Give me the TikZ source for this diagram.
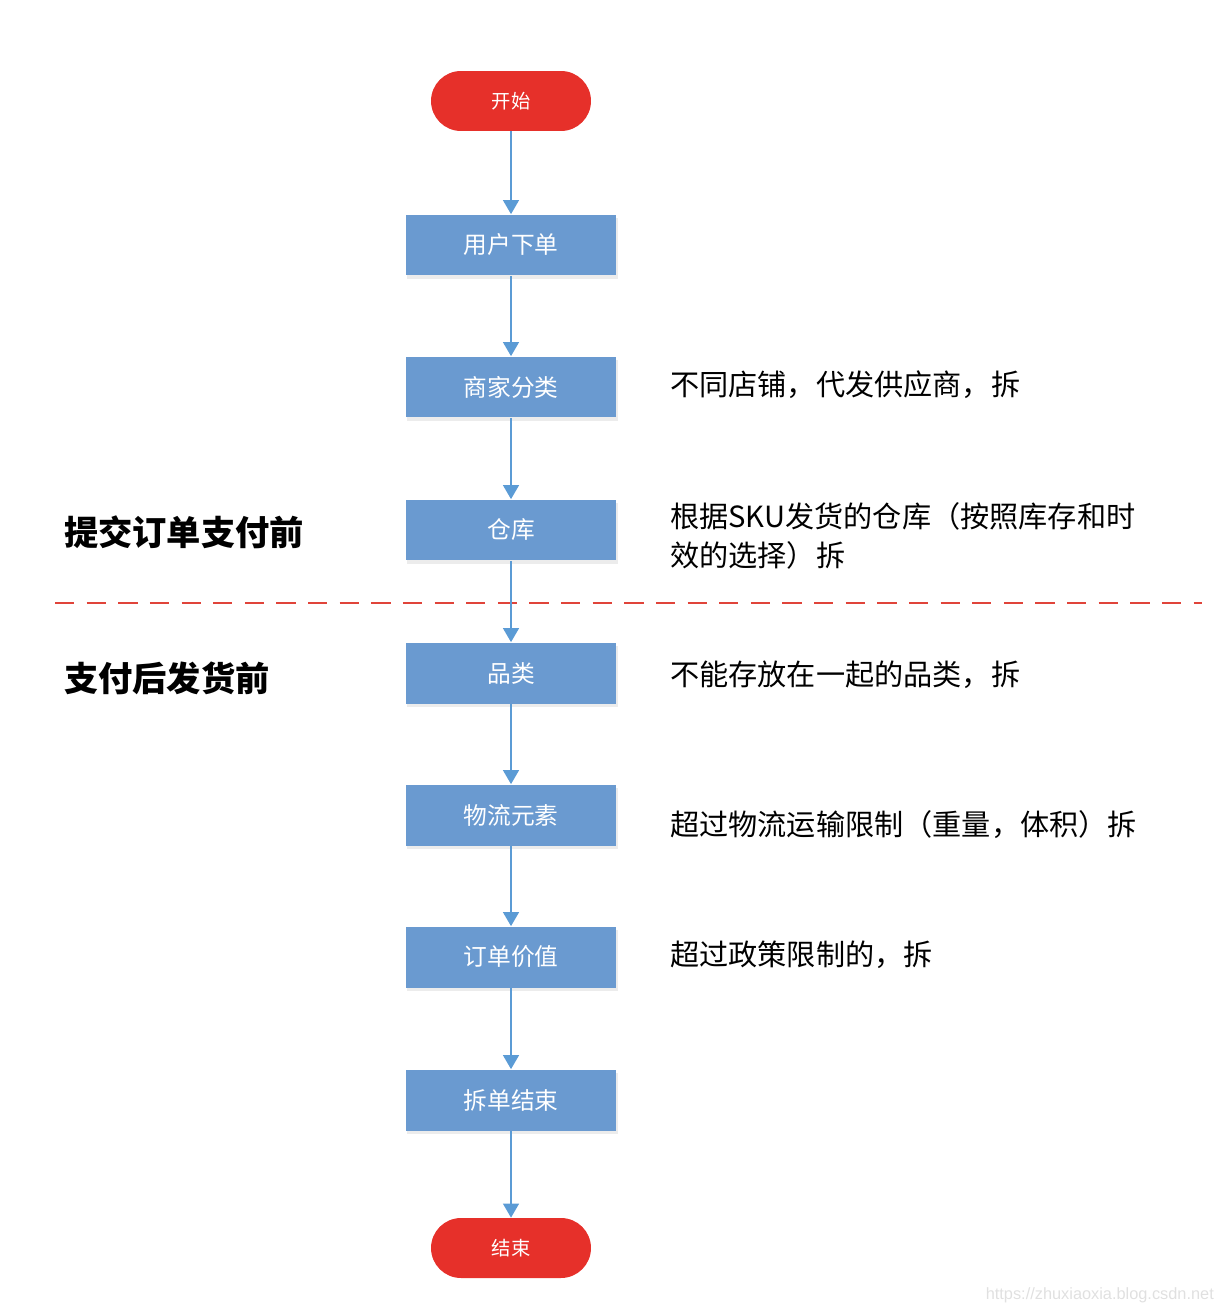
\documentclass[tikz,border=0pt]{standalone}
\usepackage{fontspec}
\setmainfont{Noto Sans CJK SC}
\newfontfamily\markfont{Liberation Sans}
\usetikzlibrary{arrows.meta, shadows}

\definecolor{termred}{HTML}{E6302A}
\definecolor{stepblue}{HTML}{6A9AD0}
\definecolor{flowblue}{HTML}{5B9BD5}
\definecolor{cutred}{HTML}{E0443A}

\begin{document}
\begin{tikzpicture}[x=0.02cm, y=-0.02cm,
    term/.style={draw=none, fill=termred, rounded corners=0.6cm, minimum width=3.2cm, minimum height=1.2cm,
                 text=white, font=\fontsize{11}{13}\selectfont},
    stepbox/.style={draw=none, fill=stepblue, minimum width=4.22cm, minimum height=1.22cm,
                 text=white, font=\fontsize{13.5}{16}\selectfont, drop shadow={opacity=0.15, shadow xshift=1pt, shadow yshift=-2pt}},
    flow/.style={draw=flowblue, line width=1.1pt, -{Triangle[width=9pt, length=8pt]}},
    note/.style={anchor=west, align=left, font=\fontsize{16.6}{22}\selectfont},
    phase/.style={anchor=west, font=\fontsize{19.5}{23}\selectfont\bfseries}]
    \useasboundingbox (0,0) rectangle (1226,1314);
    % flow chain
    \node[term] (start) at (511,101) {开始};
    \node[stepbox] (order) at (511,245) {用户下单};
    \node[stepbox] (merchant) at (511,387) {商家分类};
    \node[stepbox] (warehouse) at (511,530) {仓库};
    \node[stepbox] (category) at (511,673) {品类};
    \node[stepbox] (logistics) at (511,815) {物流元素};
    \node[stepbox] (value) at (511,957) {订单价值};
    \node[stepbox] (finish) at (511,1100) {拆单结束};
    \node[term] (stop) at (511,1248) {结束};
    % phase divider
    \coordinate (cutL) at (55,603); \coordinate (cutR) at (1202,603);
    \draw[cutred, line width=1.4pt, dash pattern=on 11pt off 7pt] (cutL) -- (cutR);
    \foreach \a/\b in {start/order, order/merchant, merchant/warehouse, warehouse/category,
                       category/logistics, logistics/value, value/finish, finish/stop}
        \draw[flow] (\a) -- (\b);
    % phases
    \node[phase] (before) at (58,532) {提交订单支付前};
    \node[phase] (after) at (58,678) {支付后发货前};
    % reasons
    \node[note] (n1) at (664,385) {不同店铺，代发供应商，拆};
    \node[note] (n2) at (664,536) {根据SKU发货的仓库（按照库存和时\\效的选择）拆};
    \node[note] (n3) at (664,675) {不能存放在一起的品类，拆};
    \node[note] (n4) at (664,825) {超过物流运输限制（重量，体积）拆};
    \node[note] (n5) at (664,955) {超过政策限制的，拆};
    \node[anchor=east, text=black!12, font=\fontsize{9.3}{11}\markfont] (mark) at (1220,1295) {https://zhuxiaoxia.blog.csdn.net};
\end{tikzpicture}
\end{document}
